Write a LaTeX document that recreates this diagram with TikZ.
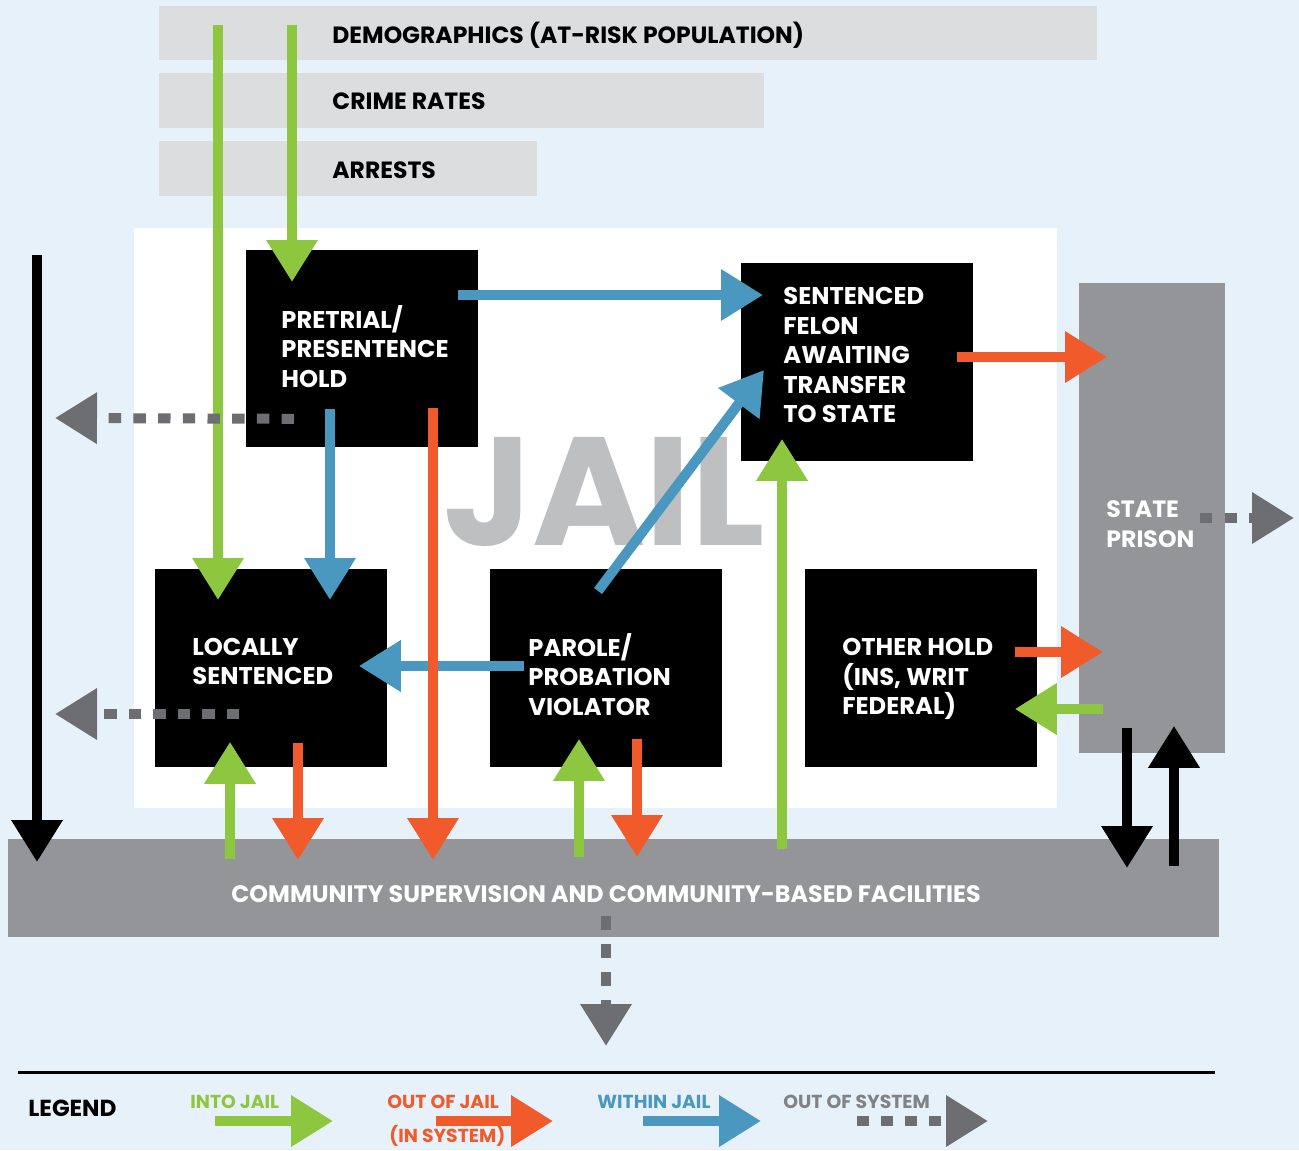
\documentclass[tikz,border=0pt]{standalone}
\usepackage{fontspec}
\setmainfont{Poppins}
\usetikzlibrary{arrows.meta,calc}
\definecolor{bgblue}{RGB}{231,241,250}
\definecolor{bargray}{RGB}{220,221,223}
\definecolor{midgray}{RGB}{147,149,152}
\definecolor{jailgray}{RGB}{190,191,193}
\definecolor{dotgray}{RGB}{109,110,113}
\definecolor{leggray}{RGB}{128,130,133}
\definecolor{ingreen}{RGB}{141,198,63}
\definecolor{outorange}{RGB}{241,90,43}
\definecolor{inblue}{RGB}{74,151,191}
\tikzset{
  bar/.style={fill=bargray, draw=none, inner sep=0pt, anchor=north west},
  blackbox/.style={fill=black, draw=none, inner sep=0pt, anchor=north west, minimum width=116pt, minimum height=99pt},
  graybox/.style={fill=midgray, draw=none, inner sep=0pt, anchor=north west},
  toplbl/.style={font=\bfseries\fontsize{11.75}{14}\selectfont, text=black, inner sep=0pt, anchor=west},
  boxlbl/.style={font=\bfseries\fontsize{12.1}{14.75}\selectfont, text=white, align=left, inner sep=0pt, anchor=west},
  leglbl/.style={font=\bfseries\fontsize{9.4}{10}\selectfont, inner sep=0pt, anchor=west},
  flow/.style={line width=5pt, -{Triangle[length=21pt,width=24.5pt]}},
  into/.style={flow, draw=ingreen},
  outjail/.style={flow, draw=outorange},
  within/.style={flow, draw=inblue},
  system/.style={flow, draw=black},
  outsys/.style={flow, draw=dotgray},
}
\begin{document}
\begin{tikzpicture}[x=0.5pt, y=-0.5pt]
\useasboundingbox (0,0) rectangle (1299,1150);
\fill[bgblue] (0,0) rectangle (1299,1150);
% top bars
\node[bar, minimum width=469pt, minimum height=27pt] (demo) at (159,6) {};
\node[bar, minimum width=302.5pt, minimum height=27.5pt] (crime) at (159,73) {};
\node[bar, minimum width=189pt, minimum height=27.5pt] (arrests) at (159,141) {};
\node[toplbl] (demol) at ($(demo.north west)+(173,29)$) {DEMOGRAPHICS (AT-RISK POPULATION)};
\node[toplbl] (crimel) at ($(crime.north west)+(173,28)$) {CRIME RATES};
\node[toplbl] (arrestsl) at ($(arrests.north west)+(173,29)$) {ARRESTS};
% jail area
\node[fill=white, draw=none, inner sep=0pt, anchor=north west, minimum width=461.5pt, minimum height=290pt] (jailarea) at (134,228) {};
\node[font=\bfseries\fontsize{77}{80}\selectfont, text=jailgray, inner sep=0pt] (jailtxt) at (604,492) {JAIL};
% boxes
\node[blackbox, minimum height=98.5pt] (pre) at (246,250) {};
\node[blackbox] (sent) at (741,263) {};
\node[blackbox] (loc) at (155,569) {};
\node[blackbox] (par) at (490,569) {};
\node[blackbox] (oth) at (805,569) {};
\node[graybox, minimum width=73pt, minimum height=235pt] (prison) at (1079,283) {};
\node[graybox, minimum width=605.5pt, minimum height=49pt] (comm) at (8,839) {};
% labels
\node[boxlbl] (prel) at ($(pre.north west)+(35,96.5)$) {PRETRIAL/\\PRESENTENCE\\HOLD};
\node[boxlbl] (sentl) at ($(sent.north west)+(42,92)$) {SENTENCED\\FELON\\AWAITING\\TRANSFER\\TO STATE};
\node[boxlbl] (locl) at ($(loc.north west)+(37,92.5)$) {LOCALLY\\SENTENCED};
\node[boxlbl] (parl) at ($(par.north west)+(38,105.5)$) {PAROLE/\\PROBATION\\VIOLATOR};
\node[boxlbl] (othl) at ($(oth.north west)+(37,110)$) {OTHER HOLD\\(INS, WRIT\\FEDERAL)};
\node[boxlbl, font=\bfseries\fontsize{11.8}{14.75}\selectfont] (prisonl) at ($(prison.north west)+(27,241)$) {STATE\\PRISON};
\node[font=\bfseries\fontsize{11.9}{14}\selectfont, text=white, inner sep=0pt] (comml) at ($(comm.north west)+(598,55)$) {COMMUNITY SUPERVISION AND COMMUNITY-BASED FACILITIES};
% free ends
\coordinate (ksrc) at (37,255);
\coordinate (exit1) at (55,418);
\coordinate (exit2) at (55,714);
\coordinate (exit3) at (1294,518);
\coordinate (exit4) at (606,1046);
% green: into jail
\draw[into] ($(demo.north west)+(59,19)$) -- ($(loc.north west)+(63,31)$);
\draw[into] ($(demo.north west)+(133,19)$) -- ($(pre.north west)+(46,32)$);
\draw[into] ($(comm.north west)+(222,20)$) -- ($(loc.south west)+(75,-26)$);
\draw[into] ($(comm.north west)+(571,18)$) -- ($(par.south west)+(89,-29)$);
\draw[into] ($(comm.north west)+(774,10)$) -- ($(sent.south west)+(41,-23)$);
\draw[into] ($(prison.north west)+(24,426)$) -- ($(oth.north east)+(-23,140)$);
% blue: within jail
\draw[within] ($(pre.north east)+(-21,45)$) -- ($(sent.north west)+(22,32)$);
\draw[within] ($(pre.south west)+(84,-39)$) -- ($(loc.north west)+(175,31)$);
\draw[within] ($(par.north west)+(34,97)$) -- ($(loc.north east)+(-29,97)$);
\draw[within] ($(par.north west)+(108,22)$) -- ($(sent.north west)+(23,107)$);
% orange: out of jail (in system)
\draw[outjail] ($(sent.north east)+(-17,94)$) -- ($(prison.north west)+(28,74)$);
\draw[outjail] ($(pre.south west)+(187,-40)$) -- ($(comm.north west)+(425,21)$);
\draw[outjail] ($(loc.south west)+(143,-25)$) -- ($(comm.north west)+(290,21)$);
\draw[outjail] ($(par.south west)+(147,-29)$) -- ($(comm.north west)+(629,18)$);
\draw[outjail] ($(oth.north east)+(-23,83)$) -- ($(prison.north west)+(24,369)$);
% gray dotted: out of system
\draw[outsys, dash pattern=on 6.2pt off 6.15pt] ($(pre.south west)+(48,-29)$) -- (exit1);
\draw[outsys, dash pattern=on 6.1pt off 6.15pt] ($(loc.north west)+(84,145)$) -- (exit2);
\draw[outsys, dash pattern=on 6pt off 6.25pt] ($(prison.north west)+(121,235)$) -- (exit3);
\draw[outsys, dash pattern=on 7pt off 7pt] ($(comm.north west)+(598,77)$) -- (exit4);
% black: system
\draw[system] (ksrc) -- ($(comm.north west)+(29,23)$);
\draw[system] ($(prison.south west)+(48,-26)$) -- ($(comm.north west)+(1119,29)$);
\draw[system] ($(comm.north west)+(1166,27)$) -- ($(prison.south west)+(95,-28)$);
% legend
\coordinate (lgl) at (18,1072);
\coordinate (lgr) at (1215,1072);
\draw[line width=1.5pt, black] (lgl) -- (lgr);
\node[font=\bfseries\fontsize{11.6}{12}\selectfont, inner sep=0pt, anchor=west] (legend) at (28,1108) {LEGEND};
\node[leglbl, text=ingreen] (lgin) at (190,1102) {INTO JAIL};
\node[leglbl, text=outorange] (lgout) at (387,1102) {OUT OF JAIL};
\node[leglbl, text=outorange] (lgout2) at (389,1136) {(IN SYSTEM)};
\node[leglbl, text=inblue] (lgwith) at (597,1102) {WITHIN JAIL};
\node[leglbl, text=leggray] (lgsys) at (783,1102) {OUT OF SYSTEM};
\coordinate (la1) at (215,1121); \coordinate (lb1) at (333,1121);
\coordinate (la2) at (436,1121); \coordinate (lb2) at (553,1121);
\coordinate (la3) at (643,1121); \coordinate (lb3) at (761,1121);
\coordinate (la4) at (857,1121); \coordinate (lb4) at (988,1121);
\draw[into] (la1) -- (lb1);
\draw[outjail] (la2) -- (lb2);
\draw[within] (la3) -- (lb3);
\draw[outsys, dash pattern=on 6pt off 6pt] (la4) -- (lb4);
\end{tikzpicture}
\end{document}
